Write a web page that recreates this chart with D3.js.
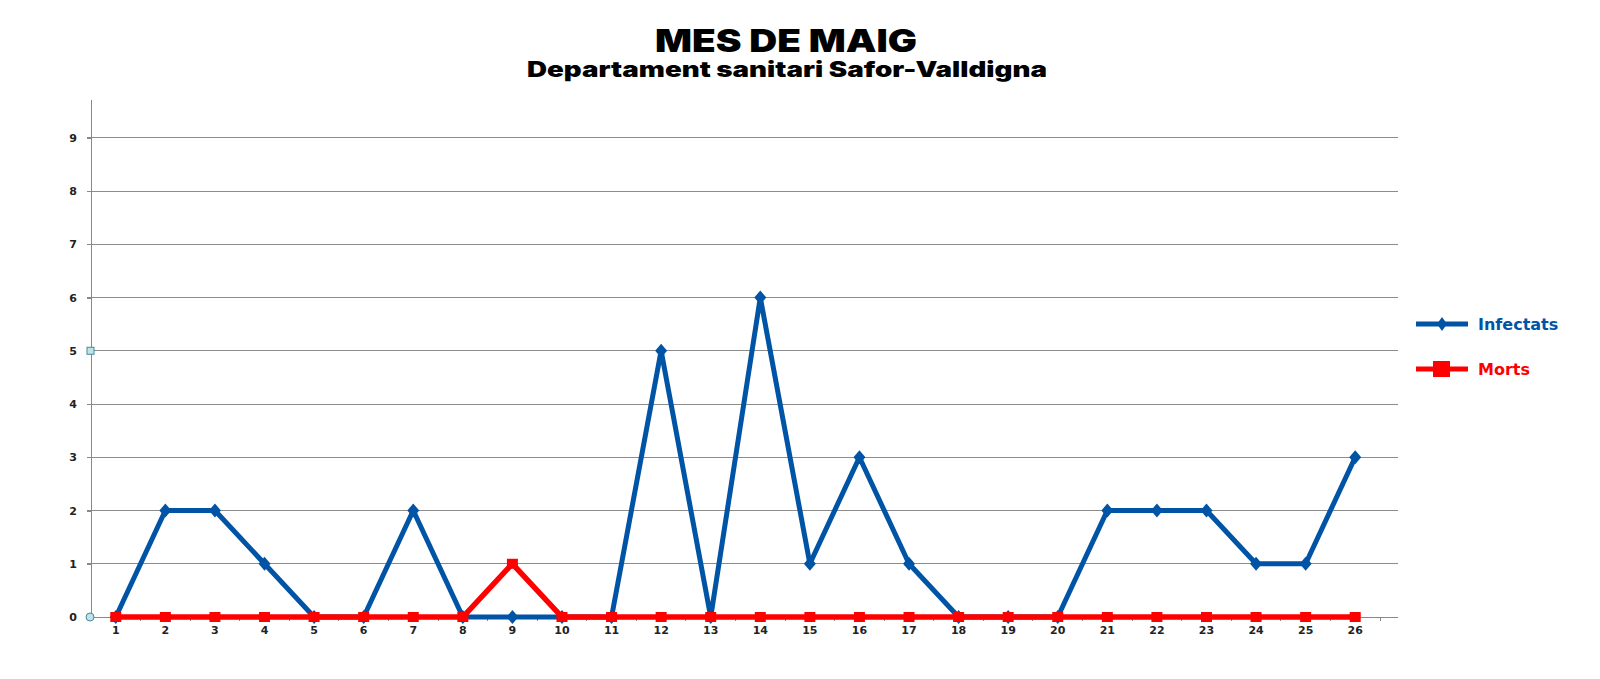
<!DOCTYPE html>
<meta charset="utf-8">
<script src="https://cdn.jsdelivr.net/npm/d3@7"></script>
<style>
body { margin: 0; background: #fff; }
.axis text { font: bold 11px "DejaVu Sans", sans-serif; fill: #222; }
.axis path, .axis line { stroke: #888; shape-rendering: crispEdges; }
.grid line { stroke: #8c8c8c; shape-rendering: crispEdges; }
.title { font-family: Inter, "DejaVu Sans", sans-serif; font-weight: 900; fill: #000; }
.legend text { font: bold 16px "DejaVu Sans", sans-serif; }
</style>
<div id="chart"></div>
<script>
var days = d3.range(1, 27).map(String);
var infectats = [0, 2, 2, 1, 0, 0, 2, 0, 0, 0, 0, 5, 0, 6, 1, 3, 1, 0, 0, 0, 2, 2, 2, 1, 1, 3];
var morts     = [0, 0, 0, 0, 0, 0, 0, 0, 1, 0, 0, 0, 0, 0, 0, 0, 0, 0, 0, 0, 0, 0, 0, 0, 0, 0];
var yTicks = [0, 1, 2, 3, 4, 5, 6, 7, 8, 9];

var blue = "#0054a6", red = "#ff0000";

var svg = d3.select("#chart").append("svg")
    .attr("width", 1600)
    .attr("height", 679);

var x = d3.scaleBand().domain(days).range([91, 1380]);
var y = d3.scaleLinear().domain([0, 9.71]).range([617, 100]);
var cx = function(d, i) { return x(days[i]) + x.bandwidth() / 2; };

// titles
svg.append("text").attr("class", "title")
    .attr("x", 786).attr("y", 52).attr("text-anchor", "middle")
    .attr("font-size", 31)
    .attr("textLength", 262).attr("lengthAdjust", "spacingAndGlyphs")
    .text("MES DE MAIG");
svg.append("text").attr("class", "title")
    .attr("x", 787).attr("y", 77).attr("text-anchor", "middle")
    .attr("font-size", 21)
    .attr("textLength", 520).attr("lengthAdjust", "spacingAndGlyphs")
    .text("Departament sanitari Safor-Valldigna");

// gridlines
svg.append("g").attr("class", "grid")
  .selectAll("line").data(yTicks.slice(1)).enter().append("line")
    .attr("x1", 87).attr("x2", 1398)
    .attr("y1", function(d) { return y(d); })
    .attr("y2", function(d) { return y(d); });

// y axis
var yAxis = svg.append("g").attr("class", "axis")
    .attr("transform", "translate(91,0)")
    .call(d3.axisLeft(y).tickValues(yTicks).tickSize(4).tickPadding(10));
yAxis.select(".domain").attr("d", "M0," + y(9.71) + "V" + y(0));

// x axis
var xAxis = svg.append("g").attr("class", "axis")
    .attr("transform", "translate(0,617)")
    .call(d3.axisBottom(x).tickSize(0).tickPadding(9));
xAxis.select(".domain").attr("d", "M87,0H1398");
xAxis.selectAll(".bound").data(days).enter().append("line")
    .attr("class", "bound")
    .attr("x1", function(d) { return x(d) + x.bandwidth(); })
    .attr("x2", function(d) { return x(d) + x.bandwidth(); })
    .attr("y1", 0).attr("y2", 4);

// lines
var line = d3.line().x(cx).y(function(d) { return y(d); });

svg.append("path").datum(infectats)
    .attr("fill", "none").attr("stroke", blue).attr("stroke-width", 5)
    .attr("stroke-linejoin", "round").attr("d", line);
svg.selectAll(".dia").data(infectats).enter().append("path")
    .attr("class", "dia")
    .attr("transform", function(d, i) { return "translate(" + cx(d, i) + "," + y(d) + ")"; })
    .attr("d", "M0,-7L6,0L0,7L-6,0Z").attr("fill", blue);

svg.append("path").datum(morts)
    .attr("fill", "none").attr("stroke", red).attr("stroke-width", 5.5)
    .attr("d", line);
svg.selectAll(".sq").data(morts).enter().append("rect")
    .attr("class", "sq")
    .attr("x", function(d, i) { return cx(d, i) - 5.5; })
    .attr("y", function(d) { return y(d) - 5; })
    .attr("width", 11).attr("height", 10).attr("fill", red);

// selection handles seen on the axis
svg.append("circle").attr("cx", 90).attr("cy", y(0)).attr("r", 4)
    .attr("fill", "#bfe3ea").attr("stroke", "#4a8a9a");
svg.append("rect").attr("x", 87).attr("y", y(5) - 3.5).attr("width", 7).attr("height", 7)
    .attr("fill", "#bfe3ea").attr("stroke", "#4a8a9a");

// legend
var legend = svg.append("g").attr("class", "legend");
var items = [
  {name: "Infectats", color: blue, y: 324},
  {name: "Morts", color: red, y: 369}
];
var li = legend.selectAll("g").data(items).enter().append("g")
    .attr("transform", function(d) { return "translate(1416," + d.y + ")"; });
li.append("line").attr("x1", 0).attr("x2", 52)
    .attr("stroke", function(d) { return d.color; })
    .attr("stroke-width", 5);
li.append("path")
    .attr("d", function(d, i) { return i ? "M17,-8H34V8H17Z" : "M26,-7L31,0L26,7L21,0Z"; })
    .attr("fill", function(d) { return d.color; });
li.append("text").attr("x", 62).attr("y", 6)
    .attr("fill", function(d) { return d.color; })
    .text(function(d) { return d.name; });
</script>
